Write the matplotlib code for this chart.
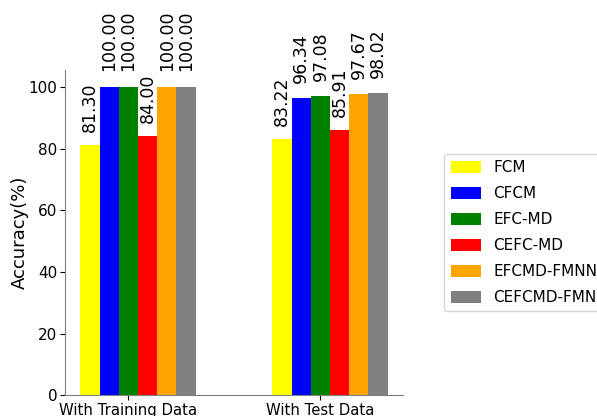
import numpy as np
import matplotlib
matplotlib.use("Agg")
import matplotlib.pyplot as plt

# data
groups = ["With Training Data", "With Test Data"]
methods = ["FCM", "CFCM", "EFC-MD", "CEFC-MD", "EFCMD-FMNN", "CEFCMD-FMNN"]
colors = ["yellow", "blue", "green", "red", "orange", "gray"]
train_acc = [81.30, 100.00, 100.00, 84.00, 100.00, 100.00]
test_acc = [83.22, 96.34, 97.08, 85.91, 97.67, 98.02]

values = np.array([train_acc, test_acc])
x = np.arange(len(groups))
w = 0.1

fig = plt.figure(figsize=(5.97, 4.16), dpi=100)
ax = fig.add_axes([0.109, 0.05, 0.566, 0.782])

for i, m in enumerate(methods):
    bars = ax.bar(x + (i - 2) * w, values[:, i], w, color=colors[i], label=m)
    for b in bars:
        h = b.get_height()
        ax.text(b.get_x() + b.get_width() / 2, 1.05 * h, "%.2f" % h,
                ha="center", va="bottom", rotation=90, fontsize=12.5)

ax.set_xticks(x)
ax.set_xticklabels(groups, fontsize=10.7)
ax.tick_params(axis="x", pad=2)
ax.set_ylim(0, 105.5)
ax.set_yticks([0, 20, 40, 60, 80, 100])
ax.tick_params(axis="y", labelsize=11, pad=2)
ax.set_ylabel("Accuracy(%)", fontsize=13, labelpad=0)

ax.spines["top"].set_visible(False)
ax.spines["right"].set_visible(False)
ax.spines["left"].set_color("gray")
ax.spines["bottom"].set_color("gray")

ax.legend(loc="center left", bbox_to_anchor=(1.1, 0.5), fontsize=11,
          labelspacing=0.72, handleheight=0.85)

fig.savefig("out.png", dpi=100)
